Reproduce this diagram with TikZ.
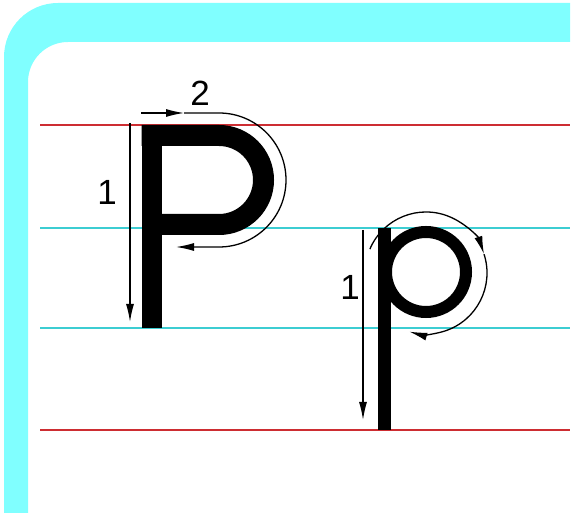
\documentclass[tikz,border=0pt]{standalone}
\usepackage{fontspec}
\setmainfont{Liberation Sans}
\usetikzlibrary{arrows.meta}
\definecolor{bandcyan}{RGB}{128,255,255}
\definecolor{redline}{RGB}{205,45,50}
\definecolor{cyanline}{RGB}{60,205,210}
\tikzset{
  guide/.style={line width=2pt},
  thick stroke/.style={line width=#1, line cap=butt},
  guidearrow/.style={line width=1.3pt, -{Latex[length=18pt,width=8pt]}},
  numlabel/.style={font=\fontsize{35}{35}\selectfont, inner sep=0pt}
}
\begin{document}
\begin{tikzpicture}[x=1pt,y=1pt]
\useasboundingbox (0,0) rectangle (573,513);
\fill[white] (0,0) rectangle (573,513);
% frame band
\fill[bandcyan] (4,0) -- (4,456) arc (180:90:54) -- (570,510) -- (570,471)
  -- (68,471) arc (90:180:40) -- (28,0) -- cycle;
% guide lines
\draw[guide,redline] (40,388) -- (570,388);
\draw[guide,cyanline] (40,285) -- (570,285);
\draw[guide,cyanline] (40,185) -- (570,185);
\draw[guide,redline] (40,83) -- (570,83);
% capital P
\draw[thick stroke=20pt] (151.7,388) -- (151.7,185);
\draw[thick stroke=21pt] (141.7,377.5) -- (219,377.5) arc (90:-90:44.5) -- (161.7,288.5);
% arrows for P
\coordinate (P1s) at (130,390);
\coordinate (P1e) at (130,191);
\draw[guidearrow] (P1s) -- (P1e);
\node[numlabel] (L1) at (107,321) {1};
\coordinate (P2s) at (141,400);
\coordinate (P2m) at (184,400);
\coordinate (P2a) at (219,400);
\coordinate (P2e) at (176,266);
\draw[guidearrow] (P2s) -- (P2m);
\draw[guidearrow] (P2m) -- (P2a) arc (90:-90:67) -- (P2e);
\node[numlabel] (L2) at (200,420) {2};
% small p
\draw[thick stroke=13pt] (384,285) -- (384,83);
\draw[line width=12pt] (426,241) circle (40);
\coordinate (p1s) at (363,283);
\coordinate (p1e) at (363,93);
\draw[guidearrow] (p1s) -- (p1e);
\node[numlabel] (L3) at (350,226) {1};
\coordinate (pc) at (426,240);
\draw[guidearrow] ([shift={(157:61)}]pc) arc (157:18:61);
\draw[guidearrow] ([shift={(18:61)}]pc) arc (18:-106:61);
\end{tikzpicture}
\end{document}
